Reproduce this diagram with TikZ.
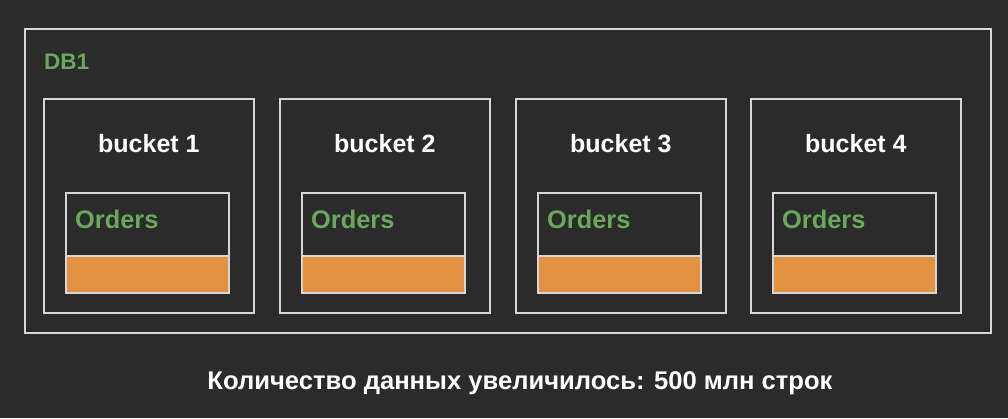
\documentclass[tikz,border=0pt]{standalone}
\usepackage{fontspec}
\setmainfont{Liberation Sans}
\definecolor{bg}{HTML}{2B2B2B}
\definecolor{ln}{HTML}{D6D6D6}
\definecolor{grn}{HTML}{6AA85C}
\definecolor{org}{HTML}{E39140}
\begin{document}
\begin{tikzpicture}[x=1pt,y=-1pt,
  frame/.style={draw=ln,line width=1.8pt,fill=bg},
  bucketbox/.style={draw=ln,line width=1.8pt,fill=bg,minimum width=210pt,minimum height=214pt,anchor=north west,inner sep=0pt},
  tablebox/.style={draw=ln,line width=1.6pt,fill=bg,minimum width=163pt,minimum height=100pt,anchor=north west,inner sep=0pt},
  barbox/.style={draw=ln,line width=1.6pt,fill=org,minimum width=163pt,minimum height=37pt,anchor=north west,inner sep=0pt},
  btitle/.style={text=white,font=\bfseries\fontsize{25}{30}\selectfont},
  gtitle/.style={text=grn,font=\bfseries\fontsize{25.4}{30}\selectfont,anchor=west,inner sep=0pt}]
\fill[bg] (0,0) rectangle (1008,418);
\useasboundingbox (0,0) rectangle (1008,418);
\node[frame,minimum width=966pt,minimum height=304pt,anchor=north west,inner sep=0pt] (db) at (24,28) {};
\node[gtitle,font=\bfseries\fontsize{22.5}{27}\selectfont] (dbl) at (44,62) {DB1};
\foreach \i/\x in {1/43,2/279,3/515,4/750}{
  \node[bucketbox] (b\i) at (\x,98) {};
  \node[btitle] (bl\i) at ([yshift=-46pt]b\i.north) {bucket \i};
  \node[tablebox] (t\i) at (\x+22,192) {};
  \node[barbox] (o\i) at (\x+22,255) {};
  \node[gtitle] (tl\i) at (\x+32,219) {Orders};
}
\node[text=white,inner sep=0pt] (cap) at (520,383) {\resizebox{625pt}{!}{\bfseries\fontsize{20}{24}\selectfont Количество данных увеличилось: 500 млн строк}};
\end{tikzpicture}
\end{document}
